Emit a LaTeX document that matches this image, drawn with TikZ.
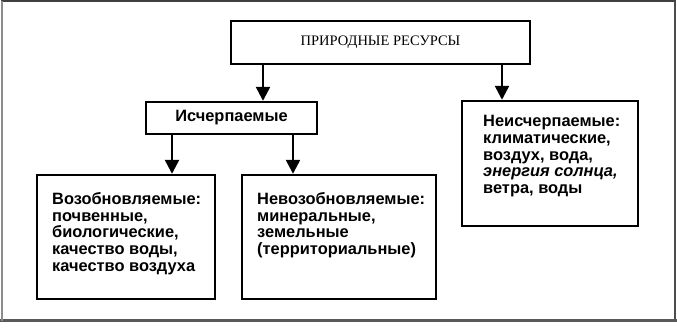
\documentclass[tikz,border=0pt]{standalone}
\usepackage{fontspec}
\setmainfont{Liberation Sans}
\newfontfamily\serifru{Liberation Serif}
\usetikzlibrary{arrows.meta}
\begin{document}
\begin{tikzpicture}[x=1pt,y=-1pt,
  box/.style={draw,line width=2.4pt,rectangle,inner sep=0pt},
  txt/.style={anchor=north west,align=left,inner sep=0pt,font=\fontsize{16.4}{16.8}\selectfont\bfseries},
  arr/.style={line width=2.4pt,-{Triangle[length=14pt,width=14pt]}}]
\useasboundingbox (0,0) rectangle (677,328);
\fill[white] (0,0) rectangle (677,328);
% scan frame
\draw[line width=2pt,black!75] (1,1) -- (676,1);
\draw[line width=2pt,black!70] (675,1) -- (675,321);
\draw[line width=3pt,black!65] (0,321) -- (677,321);
\draw[line width=1.5pt,black!45] (2,1) -- (2,321);
% boxes
\node[box,minimum width=299pt,minimum height=43pt] (top) at (380.5,42.5) {};
\node[font=\serifru\fontsize{14.5}{16}\selectfont,inner sep=0pt] (toptxt) at (top.center) {ПРИРОДНЫЕ РЕСУРСЫ};
\node[box,minimum width=171pt,minimum height=32pt,font=\fontsize{16.4}{16.8}\selectfont\bfseries] (isch) at (231.5,118) {Исчерпаемые};
\node[box,minimum width=178pt,minimum height=124pt] (left) at (126,237) {};
\node[box,minimum width=194pt,minimum height=124pt] (mid) at (339,237) {};
\node[box,minimum width=176pt,minimum height=125pt] (right) at (550,163.5) {};
\node[txt] (lefttxt) at (52,192) {Возобновляемые:\\почвенные,\\биологические,\\качество воды,\\качество воздуха};
\node[txt] (midtxt) at (257,192) {Невозобновляемые:\\минеральные,\\земельные\\(территориальные)};
\node[txt] (righttxt) at (483,115) {Неисчерпаемые:\\климатические,\\воздух, вода,\\\textit{энергия солнца,}\\ветра, воды};
% arrows
\draw[arr] (263,0 |- top.south) -- (263,0 |- isch.north);
\draw[arr] (502,0 |- top.south) -- (502,0 |- right.north);
\draw[arr] (172,0 |- isch.south) -- (172,0 |- left.north);
\draw[arr] (293,0 |- isch.south) -- (293,0 |- mid.north);
\end{tikzpicture}
\end{document}
